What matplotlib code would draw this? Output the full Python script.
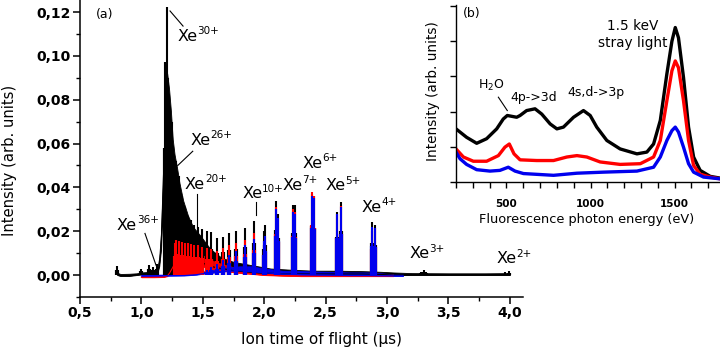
import matplotlib
matplotlib.use("Agg")
import matplotlib.pyplot as plt
from matplotlib.ticker import MultipleLocator, FuncFormatter
import numpy as np

plt.rcParams['font.family'] = ['DejaVu Sans']
plt.rcParams['mathtext.default'] = 'regular'

# ---------------- (a) ion time-of-flight spectra ----------------
# black trace: dense band (lower / upper envelope) and peak tips
bk_t = [0.80, 0.805, 0.83, 0.90, 0.96, 1.00, 1.05, 1.10, 1.13, 1.145, 1.16, 1.172, 1.185, 1.195,
        1.21, 1.225, 1.24, 1.255, 1.27, 1.29, 1.31, 1.34, 1.38, 1.42, 1.48, 1.56, 1.65, 1.75,
        1.85, 1.95, 2.05, 2.2, 2.4, 2.6, 2.8, 2.95, 3.05, 3.2, 3.5, 3.8, 4.0]
bk_hi = [0.0035, 0.001, 0.0005, 0.0006, 0.0008, 0.0012, 0.0014, 0.0016, 0.003, 0.008, 0.020,
         0.042, 0.060, 0.092, 0.092, 0.085, 0.075, 0.062, 0.055, 0.049, 0.042, 0.034, 0.027,
         0.022, 0.018, 0.012, 0.008, 0.006, 0.005, 0.004, 0.003, 0.0025, 0.002, 0.002, 0.0018,
         0.0015, 0.0012, 0.0009, 0.0008, 0.0008, 0.0009]
bk_lo = [0.002, 0.0, -0.0004, -0.0004, 0.0, 0.0003, 0.0004, 0.0005, 0.001, 0.004, 0.012, 0.03,
         0.045, 0.05, 0.04, 0.032, 0.025, 0.022, 0.020, 0.017, 0.015, 0.012, 0.010, 0.008, 0.006,
         0.004, 0.003, 0.002, 0.0015, 0.001, 0.0008, 0.0005, 0.0005, 0.0005, 0.0005, 0.0003,
         0.0, 0.0, 0.0, 0.0, 0.0]
bk_pk_t = [0.80, 0.995, 1.065, 1.097, 1.13, 1.195, 1.206, 1.216, 1.248, 1.285, 1.306, 1.328,
           1.351, 1.376, 1.402, 1.431, 1.461, 1.495, 1.530, 1.570, 1.613, 1.661, 1.714, 1.774,
           1.842, 1.919, 1.995, 2.010, 2.095, 2.110, 2.232, 2.251, 2.390, 2.402, 2.593, 2.623,
           2.878, 2.905, 3.280, 3.300, 3.320, 3.960, 3.995]
bk_pk_h = [0.004, 0.003, 0.0045, 0.0036, 0.005, 0.097, 0.1225, 0.090, 0.070, 0.052, 0.045, 0.036,
           0.031, 0.027, 0.025, 0.023, 0.022, 0.021, 0.020, 0.0195, 0.0168, 0.0174, 0.019, 0.020,
           0.0214, 0.0245, 0.020, 0.0227, 0.034, 0.028, 0.032, 0.032, 0.037, 0.036, 0.029, 0.0333,
           0.0242, 0.0227, 0.0015, 0.0025, 0.0015, 0.0012, 0.0018]

# red trace
rd_t = [1.00, 1.10, 1.18, 1.21, 1.23, 1.25, 1.27, 1.30, 1.34, 1.38, 1.42, 1.46, 1.50, 1.55,
        1.60, 1.66, 1.72, 1.80, 1.90, 2.00, 2.15, 2.30, 2.50, 2.70, 2.85, 2.95, 3.05]
rd_hi = [-0.0003, -0.0003, -0.0002, 0.001, 0.004, 0.008, 0.011, 0.0125, 0.0125, 0.012, 0.011,
         0.010, 0.009, 0.0075, 0.006, 0.005, 0.004, 0.003, 0.0025, 0.002, 0.0015, 0.0012, 0.001,
         0.0008, 0.0008, 0.0006, 0.0004]
rd_lo = [-0.001, -0.001, -0.0009, -0.0005, 0.001, 0.003, 0.005, 0.006, 0.006, 0.0055, 0.005,
         0.0045, 0.004, 0.003, 0.0025, 0.002, 0.0015, 0.001, 0.0005, 0.0, -0.0003, -0.0005,
         -0.0005, -0.0005, -0.0005, -0.0005, -0.0005]
rd_pk_t = [1.27, 1.285, 1.306, 1.328, 1.351, 1.376, 1.402, 1.431, 1.461, 1.495, 1.530, 1.570,
           1.613, 1.661, 1.714, 1.774, 1.842, 1.919, 1.995, 2.010, 2.095, 2.110, 2.232, 2.251,
           2.390, 2.402, 2.593, 2.623, 2.878, 2.905]
rd_pk_h = [0.0145, 0.016, 0.0155, 0.015, 0.0145, 0.0145, 0.014, 0.0135, 0.0135, 0.013, 0.0125,
           0.012, 0.0110, 0.0125, 0.0135, 0.0145, 0.016, 0.019, 0.0155, 0.0175, 0.031, 0.025,
           0.030, 0.029, 0.0378, 0.036, 0.028, 0.0315, 0.020, 0.0215]

# blue trace
bl_t = [1.00, 1.20, 1.35, 1.45, 1.52, 1.60, 1.70, 1.80, 1.90, 2.00, 2.15, 2.30, 2.50, 2.70,
        2.85, 2.95, 3.05, 3.13]
bl_hi = [0.0002, 0.0002, 0.0004, 0.001, 0.0018, 0.0025, 0.0035, 0.004, 0.004, 0.003, 0.002,
         0.0018, 0.0015, 0.0012, 0.0012, 0.0008, 0.0003, 0.0002]
bl_lo = [-0.0004, -0.0003, -0.0002, 0.0002, 0.0008, 0.0012, 0.0018, 0.002, 0.0015, 0.001,
         0.0005, 0.0002, 0.0, -0.0002, -0.0002, -0.0003, -0.0004, -0.0004]
bl_pk_t = [1.530, 1.570, 1.613, 1.661, 1.714, 1.774, 1.842, 1.919, 1.995, 2.010, 2.095, 2.110,
           2.232, 2.251, 2.390, 2.402, 2.593, 2.623, 2.878, 2.905]
bl_pk_h = [0.0025, 0.0035, 0.005, 0.007, 0.009, 0.011, 0.0135, 0.0165, 0.0155, 0.018, 0.030,
           0.026, 0.029, 0.028, 0.036, 0.035, 0.028, 0.031, 0.022, 0.0215]

# charge-state labels
ion_labels = ["36+", "30+", "26+", "20+", "10+", "7+", "6+", "5+", "4+", "3+", "2+"]
ion_x = [0.80, 1.29, 1.396, 1.355, 1.82, 2.145, 2.31, 2.495, 2.794, 3.18, 3.89]
ion_y = [0.0227, 0.109, 0.0614, 0.0414, 0.037, 0.041, 0.051, 0.0407, 0.031, 0.0098, 0.0075]
# pointer lines
ptr_x0 = [1.029, 1.233, 1.418, 1.45, 1.93]
ptr_y0 = [0.019, 0.1205, 0.0565, 0.0371, 0.0333]
ptr_x1 = [1.119, 1.339, 1.296, 1.45, 1.93]
ptr_y1 = [0.0045, 0.1136, 0.050, 0.0212, 0.0273]

# ---------------- (b) fluorescence spectra ----------------
e_bk = [200, 263, 323, 382, 442, 481, 505, 561, 581, 620, 670, 710, 760, 800, 839, 899, 958,
        998, 1037, 1097, 1176, 1276, 1335, 1375, 1415, 1454, 1484, 1504, 1523, 1553, 1583, 1613,
        1652, 1712, 1771]
i_bk = [1.51, 1.27, 1.10, 1.23, 1.51, 1.79, 1.89, 1.84, 1.89, 2.03, 2.08, 1.93, 1.65, 1.51,
        1.56, 1.84, 2.03, 1.89, 1.56, 1.18, 0.94, 0.80, 0.85, 1.08, 1.75, 3.07, 4.0, 4.39, 4.1,
        2.97, 1.56, 0.71, 0.33, 0.16, 0.11]
e_rd = [200, 244, 303, 382, 452, 491, 517, 545, 581, 680, 780, 859, 919, 978, 1057, 1176, 1296,
        1375, 1415, 1454, 1484, 1504, 1523, 1553, 1583, 1613, 1652, 1712, 1771]
i_rd = [0.94, 0.71, 0.59, 0.59, 0.75, 0.99, 1.08, 0.80, 0.63, 0.61, 0.61, 0.71, 0.75, 0.71, 0.57,
        0.50, 0.52, 0.71, 1.18, 2.31, 3.16, 3.44, 3.25, 2.31, 1.18, 0.47, 0.22, 0.14, 0.09]
e_bl = [200, 224, 263, 323, 402, 461, 511, 551, 601, 780, 919, 1077, 1276, 1375, 1415, 1454,
        1484, 1504, 1523, 1553, 1583, 1613, 1672, 1771]
i_bl = [0.85, 0.66, 0.50, 0.35, 0.31, 0.33, 0.42, 0.31, 0.24, 0.19, 0.25, 0.28, 0.31, 0.42, 0.71,
        1.18, 1.46, 1.56, 1.42, 0.99, 0.52, 0.28, 0.14, 0.09]

fig = plt.figure(figsize=(7.2, 3.5), dpi=100)

# ---- main axes ----
ax = fig.add_axes([80/720, 1-297/350, 443/720, 297/350])
series = [
    ('black', bk_t, bk_lo, bk_hi, bk_pk_t, bk_pk_h),
    ('red', rd_t, rd_lo, rd_hi, rd_pk_t, rd_pk_h),
    ('#0000ee', bl_t, bl_lo, bl_hi, bl_pk_t, bl_pk_h),
]
for col, t, lo, hi, pt, ph in series:
    ax.fill_between(t, lo, hi, color=col, lw=0.6, edgecolor=col)
    ax.plot(t, lo, color=col, lw=0.8)
    # each peak: broad foot plus narrow tip
    ax.vlines(pt, 0, np.asarray(ph) * 0.6, color=col, lw=3.0)
    ax.vlines(pt, 0, ph, color=col, lw=1.5)

for lab, x, y in zip(ion_labels, ion_x, ion_y):
    xe = ax.text(x, y, 'Xe', fontsize=11.5, va='center', ha='left')
    ax.annotate(lab, xy=(1.0, 0.5), xycoords=xe, fontsize=7.5, va='bottom', ha='left')
for x0, y0, x1, y1 in zip(ptr_x0, ptr_y0, ptr_x1, ptr_y1):
    ax.plot([x0, x1], [y0, y1], color='black', lw=0.8)
ax.text(0.63, 0.119, '(a)', fontsize=9, va='center', ha='left')

ax.set_xlim(0.5, 4.107)
ax.set_ylim(-0.01, 0.1255)
ax.xaxis.set_major_locator(MultipleLocator(0.5))
ax.xaxis.set_minor_locator(MultipleLocator(0.25))
ax.yaxis.set_major_locator(MultipleLocator(0.02))
ax.yaxis.set_minor_locator(MultipleLocator(0.01))
ax.xaxis.set_major_formatter(FuncFormatter(lambda v, p: f"{v:.1f}".replace('.', ',')))
ax.yaxis.set_major_formatter(FuncFormatter(lambda v, p: f"{v:.2f}".replace('.', ',')))
for s in ['top', 'right']:
    ax.spines[s].set_visible(False)
for s in ['left', 'bottom']:
    ax.spines[s].set_linewidth(1.1)
ax.tick_params(which='major', direction='out', length=5, width=1.1, pad=1.5, labelsize=10)
ax.tick_params(which='minor', direction='out', length=3, width=1.0)
for lbl in ax.get_xticklabels() + ax.get_yticklabels():
    lbl.set_fontweight('bold')
ax.set_xlabel('Ion time of flight (µs)', fontsize=11)
ax.xaxis.set_label_coords(0.545, -0.118)
ax.xaxis.label.set_va('top')
ax.set_ylabel('Intensity (arb. units)', fontsize=10.6)
ax.yaxis.set_label_coords(-0.160, 0.461)
ax.yaxis.label.set_va('center')

# ---- inset ----
ax2 = fig.add_axes([456/720, 1-182/350, 264/720, 177/350])
ax2.set_facecolor('white')
ax2.plot(e_bk, i_bk, color='black', lw=2.4)
ax2.plot(e_rd, i_rd, color='red', lw=2.4)
ax2.plot(e_bl, i_bl, color='#0000ee', lw=2.4)
ax2.set_xlim(200, 1770)
ax2.set_ylim(0, 5.03)
ax2.xaxis.set_major_locator(MultipleLocator(500))
ax2.xaxis.set_minor_locator(MultipleLocator(100))
ax2.yaxis.set_major_locator(MultipleLocator(1))
for s in ['top', 'right']:
    ax2.spines[s].set_visible(False)
for s in ['left', 'bottom']:
    ax2.spines[s].set_linewidth(1.0)
ax2.tick_params(which='both', direction='out', length=4.5, width=1.0)
ax2.tick_params(axis='x', which='major', pad=8, labelsize=7.5)
ax2.tick_params(axis='y', labelleft=False)
for lbl in ax2.get_xticklabels():
    lbl.set_fontweight('bold')
ax2.set_xlabel('Fluorescence photon energy (eV)', fontsize=9.3)
ax2.xaxis.set_label_coords(0.496, -0.175)
ax2.xaxis.label.set_va('top')
ax2.set_ylabel('Intensity (arb. units)', fontsize=9.8)
ax2.yaxis.set_label_coords(-0.087, 0.511)
ax2.yaxis.label.set_va('center')

ax2.text(295, 4.8, '(b)', fontsize=9, ha='center', va='center')
ax2.text(1250, 4.2, '1.5 keV\nstray light', fontsize=9.8, ha='center', va='center',
         linespacing=1.25)
ax2.text(411, 2.74, r'H$_2$O', fontsize=9, ha='center', va='center')
ax2.plot([452, 505], [2.41, 2.03], color='black', lw=0.8)
ax2.text(664, 2.39, '4p->3d', fontsize=9, ha='center', va='center')
ax2.text(1033, 2.54, '4s,d->3p', fontsize=9, ha='center', va='center')

fig.savefig('out.png', dpi=100)
